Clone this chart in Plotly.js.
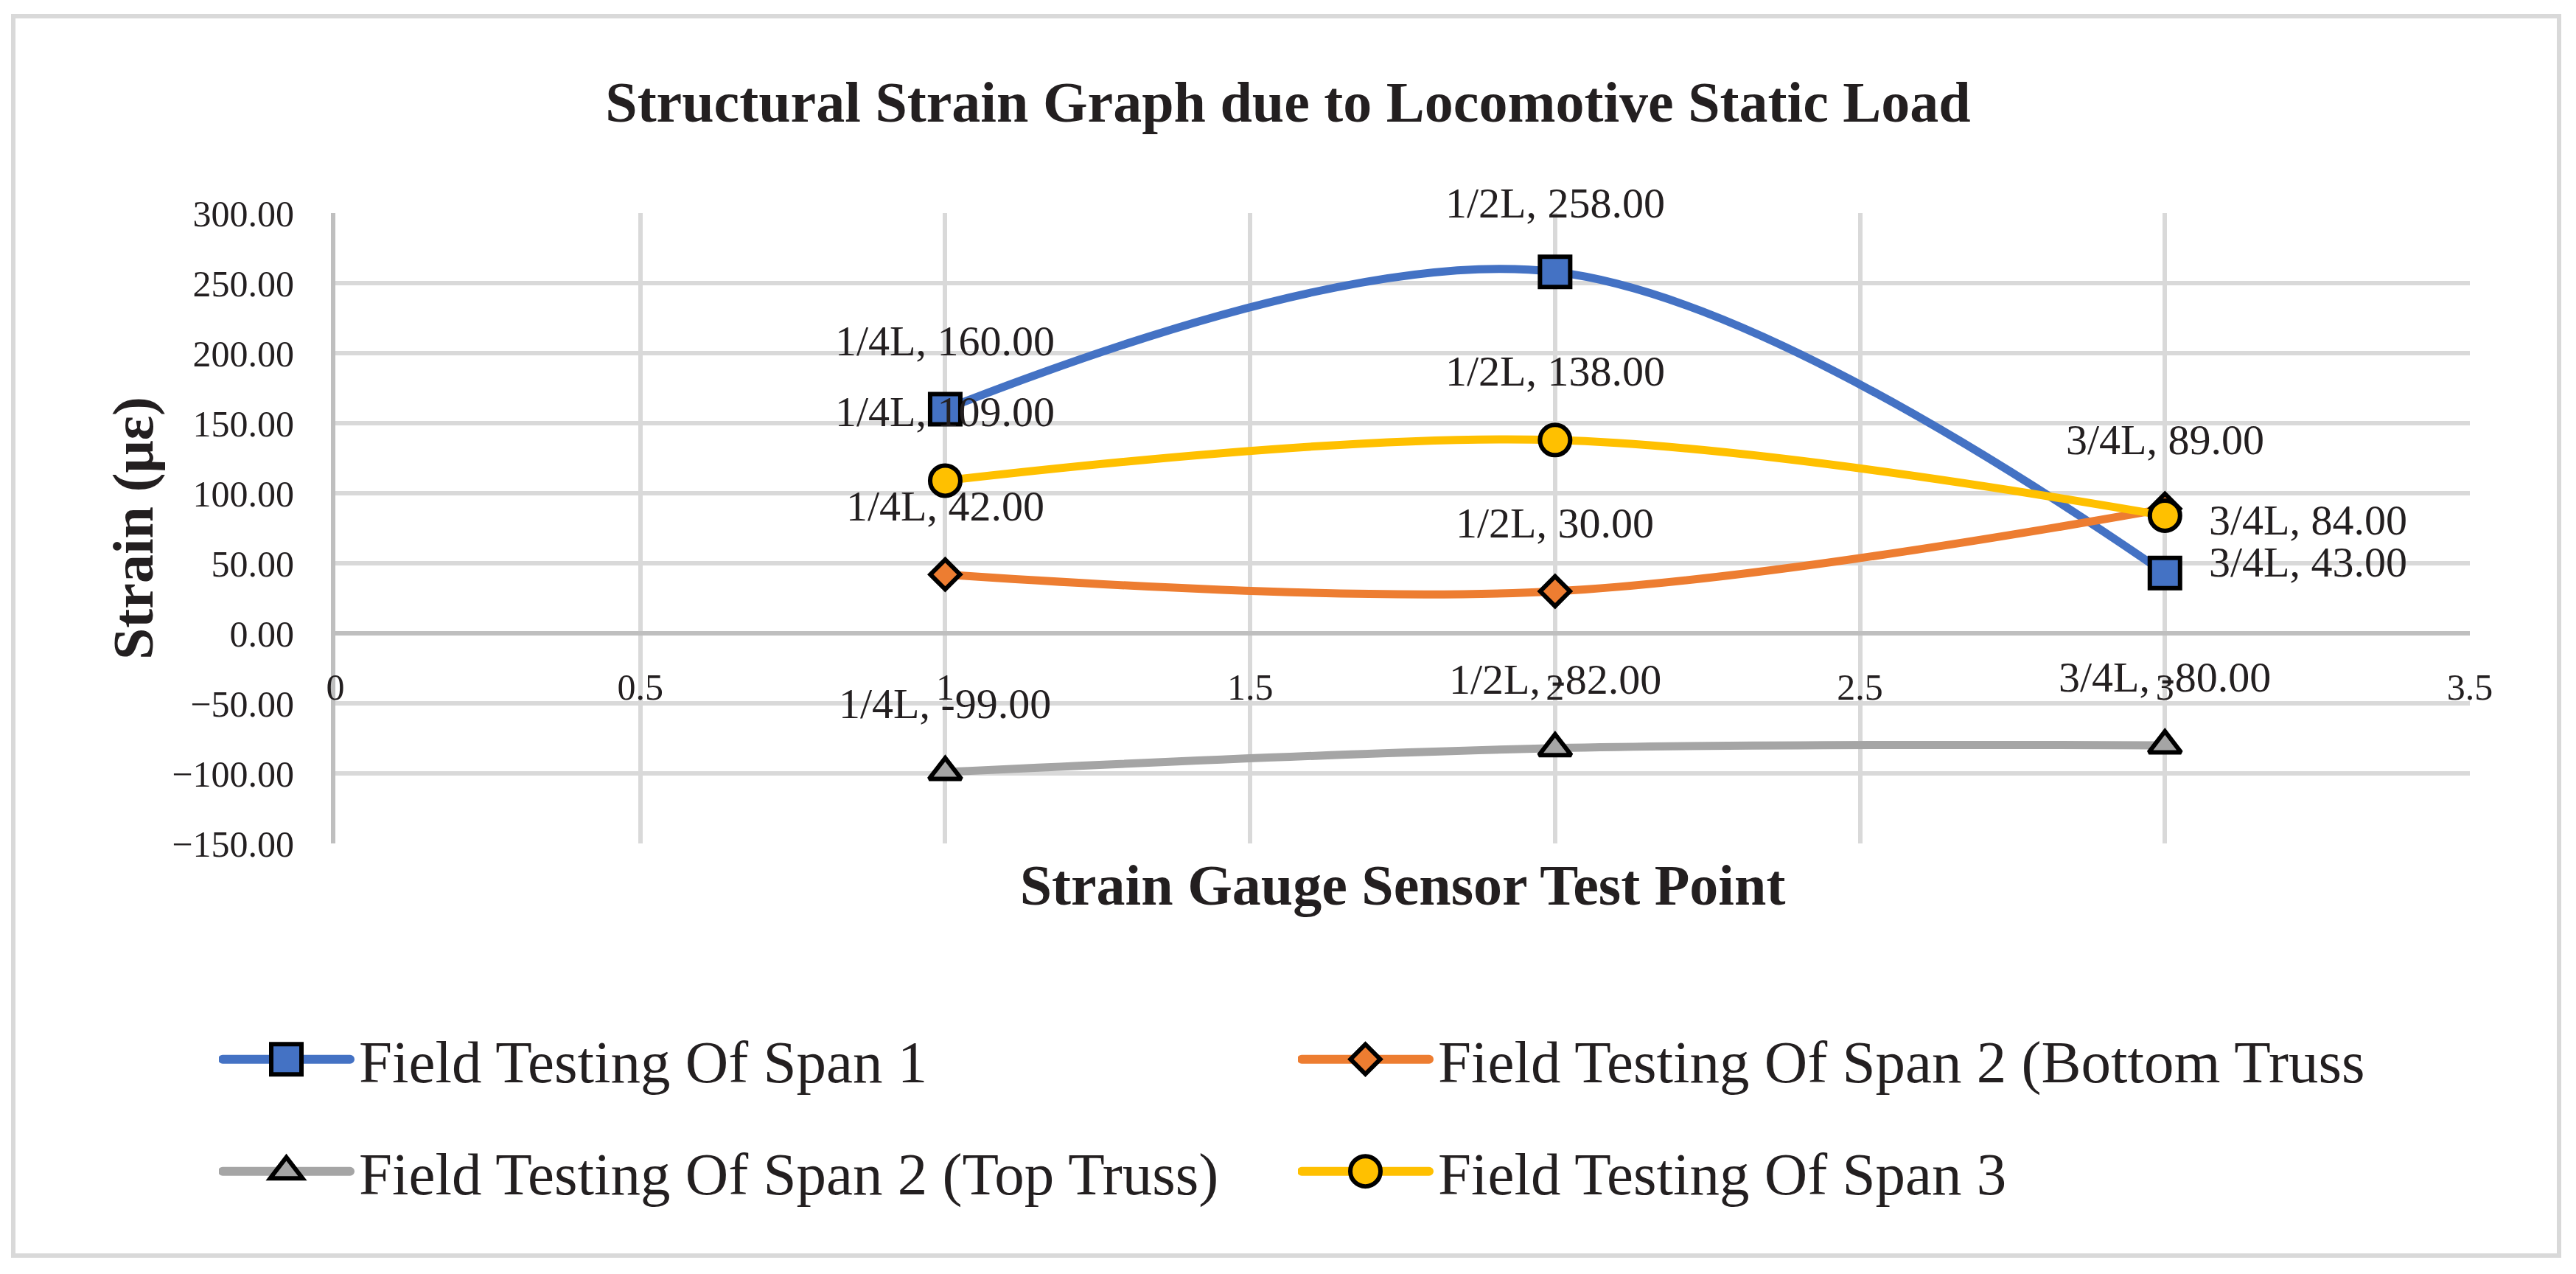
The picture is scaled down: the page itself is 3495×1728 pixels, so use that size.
<!DOCTYPE html>
<html>
<head>
<meta charset="utf-8">
<script src="https://cdn.plot.ly/plotly-3.0.1.min.js"></script>
<style>
  html, body { margin: 0; padding: 0; background: #fff; overflow: hidden; }
  #chart { width: 3495px; height: 1728px; }
  #frame { position: absolute; left: 15px; top: 19px; width: 3460px; height: 1687px;
           box-sizing: border-box; border: 6px solid #d9d9d9; pointer-events: none; }
</style>
</head>
<body>
<div id="chart"></div>
<div id="frame"></div>
<script>
// ---- data ----
const testPoints = ['1/4L', '1/2L', '3/4L'];
const xPos = [1, 2, 3];
const span1 = [160, 258, 43];
const span2Bottom = [42, 30, 89];
const span2Top = [-99, -82, -80];
const span3 = [109, 138, 84];
const seriesNames = [
  'Field Testing Of Span 1',
  'Field Testing Of Span 2 (Bottom Truss',
  'Field Testing Of Span 2 (Top Truss)',
  'Field Testing Of Span 3'
];
const xTickVals = [0, 0.5, 1, 1.5, 2, 2.5, 3, 3.5];
const xTickText = ['0', '0.5', '1', '1.5', '2', '2.5', '3', '3.5'];
const yTickVals = [-150, -100, -50, 0, 50, 100, 150, 200, 250, 300];

// ---- styles ----
const FONT = 'Liberation Serif, Times New Roman, serif';
const TXT = '#231F20';
const seriesValues = [span1, span2Bottom, span2Top, span3];
const colors = ['#4472C4', '#ED7D31', '#A5A5A5', '#FFC000'];
const symbols = ['square', 'diamond', 'triangle-up', 'circle'];
const sizes = [41, 31, 38, 41];
const MLW = 6;
const legendIds = ['legend', 'legend2', 'legend3', 'legend4'];
// label placement per series/point: 't' = above, 'r' = right
const placement = [['t', 't', 'r'], ['t', 't', 't'], ['t', 't', 't'], ['t', 't', 'r']];
const rightShiftY = [[0, 0, 15], [0, 0, 0], [0, 0, 0], [0, 0, -6]];

const traces = seriesValues.map((vals, i) => ({
  type: 'scatter',
  mode: 'lines+markers',
  name: seriesNames[i],
  x: xPos,
  y: vals,
  legend: legendIds[i],
  line: { color: colors[i], width: 11, shape: 'spline', smoothing: 1 },
  marker: { symbol: symbols[i], size: sizes[i], color: colors[i],
            line: { color: '#000', width: MLW } },
  hoverinfo: 'x+y'
}));

const annotations = [];
seriesValues.forEach((vals, i) => {
  vals.forEach((v, j) => {
    const right = placement[i][j] === 'r';
    annotations.push({
      x: xPos[j], y: v, xref: 'x', yref: 'y',
      text: testPoints[j] + ', ' + v.toFixed(2),
      showarrow: false,
      xanchor: right ? 'left' : 'center',
      yanchor: 'middle',
      xshift: right ? 58 : 0,
      yshift: right ? rightShiftY[i][j] : 93,
      font: { family: FONT, size: 58, color: TXT }
    });
  });
});

// legend placement (container px): column origins and row centres
const legendX = [297, 1761, 297, 1761];
const legendY = [1437, 1437, 1589, 1589];

const layout = {
  width: 3495, height: 1728,
  paper_bgcolor: '#ffffff', plot_bgcolor: '#ffffff',
  margin: { l: 455, r: 144, t: 289, b: 584, pad: 0 },
  font: { family: FONT, color: TXT },
  title: {
    text: '<b>Structural Strain Graph due to Locomotive Static Load</b>',
    font: { family: FONT, size: 78, color: TXT },
    x: 0.5, xref: 'container', xanchor: 'center',
    y: 1 - 138 / 1728, yref: 'container', yanchor: 'middle'
  },
  xaxis: {
    range: [0, 3.5], tickvals: xTickVals, ticktext: xTickText,
    anchor: 'free', position: 1 / 3, side: 'bottom',
    showgrid: true, gridcolor: '#d9d9d9', gridwidth: 6,
    zeroline: false, showline: false, ticks: '', fixedrange: true,
    ticklabelstandoff: 39,
    tickfont: { family: FONT, size: 50, color: TXT },
    title: { text: '<b>Strain Gauge Sensor Test Point</b>',
             font: { family: FONT, size: 78, color: TXT }, standoff: 213 }
  },
  yaxis: {
    range: [-150, 300], tickvals: yTickVals, tickformat: '.2f',
    showgrid: true, gridcolor: '#d9d9d9', gridwidth: 6,
    zeroline: true, zerolinecolor: '#bfbfbf', zerolinewidth: 6,
    showline: true, linecolor: '#bfbfbf', linewidth: 6,
    ticks: '', ticklabelstandoff: 40, fixedrange: true,
    tickfont: { family: FONT, size: 50, color: TXT },
    title: { text: '<b>Strain (με)</b>', font: { family: FONT, size: 78, color: TXT }, standoff: 2 }
  },
  showlegend: true,
  annotations: annotations
};
legendIds.forEach((id, i) => {
  layout[id] = {
    orientation: 'h', xref: 'container', yref: 'container',
    x: legendX[i] / 3495, xanchor: 'left',
    y: 1 - legendY[i] / 1728, yanchor: 'middle',
    font: { family: FONT, size: 81, color: TXT },
    itemwidth: 180,
    bgcolor: 'rgba(0,0,0,0)', borderwidth: 0
  };
});

Plotly.newPlot('chart', traces, layout, { displayModeBar: false, staticPlot: true }).then(gd => {
  // enlarge legend symbols to match the chart's line and marker sizes
  const plotPts = gd.querySelectorAll('.scatterlayer .trace');
  const legendGroups = [];
  legendIds.forEach(id => {
    gd.querySelectorAll('g.' + id + ' g.traces').forEach(g => legendGroups.push(g));
  });
  legendGroups.forEach((g, i) => {
    const ln = g.querySelector('path.js-line');
    if (ln) {
      ln.setAttribute('d', 'M5,0h173');
      ln.style.strokeWidth = '12px';
      ln.style.strokeLinecap = 'round';
    }
    const mk = g.querySelector('.legendpoints path.scatterpts');
    const tr = plotPts[i];
    const ref = tr ? tr.querySelector('.points path.point') : null;
    if (mk && ref) {
      const s = ref.getBBox().width / mk.getBBox().width;
      mk.setAttribute('transform', 'translate(91.5,0) scale(' + s + ')');
      mk.style.strokeWidth = (MLW / s) + 'px';
    }
  });
});
</script>
</body>
</html>
